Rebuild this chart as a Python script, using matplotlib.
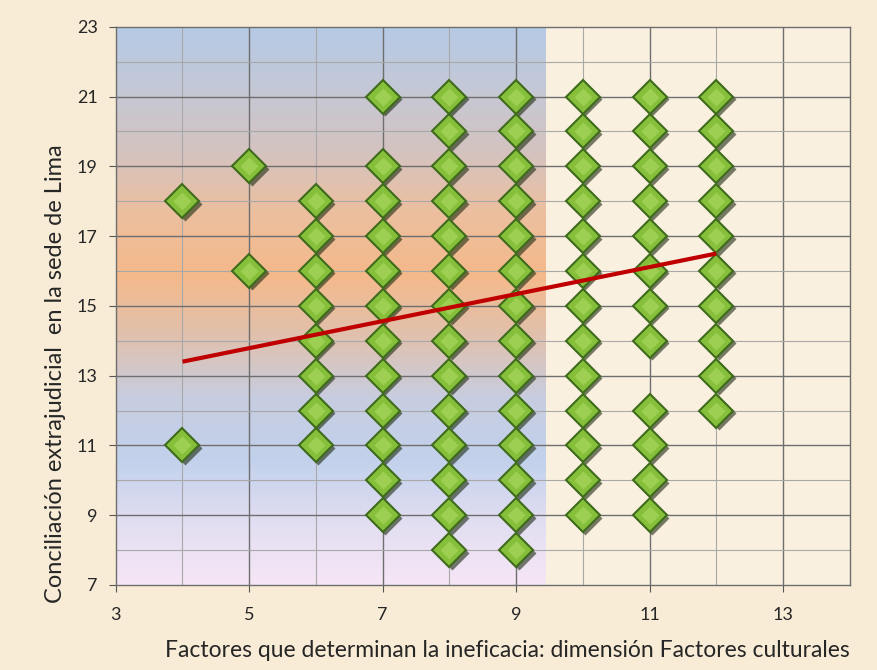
import numpy as np
import matplotlib.pyplot as plt
import matplotlib.transforms as mtransforms
from matplotlib.colors import LinearSegmentedColormap

# puntos por columna (x -> valores y)
x_vals = [4, 5, 6, 7, 8, 9, 10, 11, 12]
y_cols = [
    [18, 11],
    [19, 16],
    [18, 17, 16, 15, 14, 13, 12, 11],
    [21, 19, 18, 17, 16, 15, 14, 13, 12, 11, 10, 9],
    [21, 20, 19, 18, 17, 16, 15, 14, 13, 12, 11, 10, 9, 8],
    [21, 20, 19, 18, 17, 16, 15, 14, 13, 12, 11, 10, 9, 8],
    [21, 20, 19, 18, 17, 16, 15, 14, 13, 12, 11, 10, 9],
    [21, 20, 19, 18, 17, 16, 15, 14, 12, 11, 10, 9],
    [21, 20, 19, 18, 17, 16, 15, 14, 13, 12],
]
# linea de tendencia (extremos)
trend_x = [4, 12]
trend_y = [13.4, 16.5]

xs = np.concatenate([[x] * len(c) for x, c in zip(x_vals, y_cols)])
ys = np.concatenate(y_cols)

plt.rcParams['font.family'] = ['Lato', 'DejaVu Sans']

fig = plt.figure(figsize=(8.77, 6.70), dpi=100)
fig.patch.set_facecolor('#f8ecd6')
ax = fig.add_axes([0.132, 0.127, 0.837, 0.833])
ax.set_facecolor('#faf0e0')

ax.set_xlim(3, 14)
ax.set_ylim(7, 23)

# fondo degradado en la zona izquierda
grad_cols = ['#f6e6f6', '#e2def2', '#c2d1ec', '#c7cde0', '#e0c1ae',
             '#f5b98a', '#ecbf9f', '#d4c3c0', '#c4c8d6', '#b6cae6']
cmap = LinearSegmentedColormap.from_list('fondo', grad_cols)
grad = np.linspace(0, 1, 256).reshape(-1, 1)
ax.imshow(grad, cmap=cmap, origin='lower', aspect='auto',
          extent=[3, 9.43, 7, 23], zorder=0)

# rejilla
for v in range(4, 14):
    ax.axvline(v, color='#6e6e6e' if v % 2 else '#a8a8a8', lw=1.0 if v % 2 else 0.8, zorder=1)
for v in range(8, 23):
    ax.axhline(v, color='#6e6e6e' if v % 2 else '#a8a8a8', lw=1.0 if v % 2 else 0.8, zorder=1)

# sombras de los rombos
shadow = mtransforms.offset_copy(ax.transData, fig=fig, x=2.5, y=-2.5, units='dots')
ax.plot(xs, ys, 'D', ms=17, color='#1c2a10', alpha=0.6, mec='none',
        transform=shadow, zorder=2)
ax.plot(xs, ys, 'D', ms=17, mfc='#86bf3a', mec='#3f6b1c', mew=1.5, zorder=3)
ax.plot(xs, ys, 'D', ms=9, mfc='#9ccf52', mec='none', zorder=3)

# tendencia
ax.plot(trend_x, trend_y, color='#c00000', lw=3, zorder=4, solid_capstyle='butt')

ax.set_xticks(range(3, 15, 2))
ax.set_yticks(range(7, 24, 2))
ax.tick_params(direction='out', length=5, color='#555555', labelsize=13,
               labelcolor='#262626')
ax.tick_params(axis='x', pad=11)
ax.tick_params(axis='y', pad=8)
for s in ax.spines.values():
    s.set_color('#6e6e6e')
    s.set_linewidth(1.0)

ax.set_xlabel('Factores que determinan la ineficacia: dimensión Factores culturales',
              fontsize=16.5, color='#262626', labelpad=12, x=0.534)
ax.set_ylabel('Conciliación extrajudicial  en la sede de Lima',
              fontsize=17, color='#262626', labelpad=8, y=0.378)

fig.savefig('out.png', dpi=100, facecolor=fig.get_facecolor())
